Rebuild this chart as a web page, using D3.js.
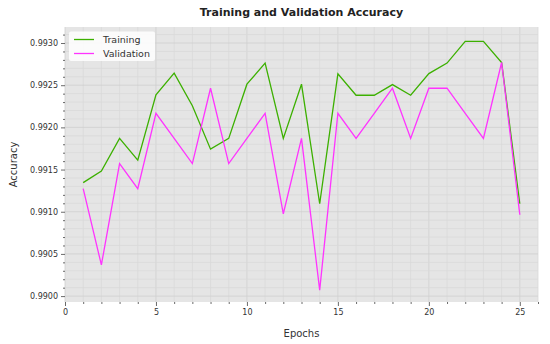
<!DOCTYPE html>
<html><head><meta charset="utf-8">
<script src="https://cdn.jsdelivr.net/npm/d3@7"></script>
<style>
body{margin:0;background:#fff;}
svg{display:block;font-family:"DejaVu Sans",sans-serif;}
</style></head><body>
<svg id="chart" width="550" height="344"></svg>
<script>
const epochs = d3.range(1, 26);
const training = [0.991345,0.991483,0.991869,0.991611,0.992385,0.992643,0.992257,0.991742,0.991869,0.992512,0.992762,0.991869,0.992512,0.991095,0.992635,0.992381,0.992381,0.992507,0.992381,0.992638,0.992762,0.993019,0.993019,0.992769,0.991095];
const validation = [0.991274,0.990369,0.991571,0.991274,0.992167,0.991869,0.991571,0.992464,0.991571,0.991869,0.992167,0.990976,0.991869,0.990071,0.992167,0.991869,0.992167,0.992464,0.991869,0.992464,0.992464,0.992167,0.991869,0.992769,0.990964];
const xTicks = [0,5,10,15,20,25];
const yTicks = [0.9900,0.9905,0.9910,0.9915,0.9920,0.9925,0.9930];
const seriesNames = ["Training","Validation"];
const colors = ["#3cb000","#ff33ff"];

const svg = d3.select("#chart");
const L = 65, R = 538, T = 27, B = 302;
const x = d3.scaleLinear().domain([0, 26]).range([L, R]);
const y = d3.scaleLinear().domain([0.98993, 0.99319]).range([B, T]);

svg.append("rect").attr("x", L).attr("y", T).attr("width", R - L).attr("height", B - T).attr("fill", "#e5e5e5");

const xMinor = d3.range(0, 27, 1);
const yMinor = d3.range(0, 33).map(i => 0.9900 + i * 0.0001).filter(v => v <= 0.99319);
const grid = svg.append("g");
grid.selectAll(".vx").data(xMinor).join("line")
  .attr("x1", d => x(d)).attr("x2", d => x(d)).attr("y1", T).attr("y2", B)
  .attr("stroke", d => d % 5 === 0 ? "#cfcfcf" : "#d9d9d9").attr("stroke-width", 0.8);
grid.selectAll(".hy").data(yMinor).join("line")
  .attr("x1", L).attr("x2", R).attr("y1", d => y(d)).attr("y2", d => y(d))
  .attr("stroke", (d, i) => i % 5 === 0 ? "#cfcfcf" : "#d9d9d9").attr("stroke-width", 0.8);

// axes
const xAxis = d3.axisBottom(x).tickValues(xTicks).tickFormat(d3.format("d")).tickSize(4).tickPadding(3);
const xAxisMinor = d3.axisBottom(x).tickValues(xMinor.filter(d => d % 5 !== 0)).tickFormat("").tickSize(2);
const yAxis = d3.axisLeft(y).tickValues(yTicks).tickFormat(d3.format(".4f")).tickSize(4).tickPadding(3);
const yAxisMinor = d3.axisLeft(y).tickValues(yMinor.filter((d, i) => i % 5 !== 0)).tickFormat("").tickSize(2);

function style(g){
  g.select(".domain").remove();
  g.selectAll("line").attr("stroke", "#444").attr("stroke-width", 0.8);
  g.selectAll("text").attr("fill", "#333").attr("font-size", "8px").attr("font-family", "DejaVu Sans");
}
svg.append("g").attr("transform", `translate(0,${B})`).call(xAxis).call(style);
svg.append("g").attr("transform", `translate(0,${B})`).call(xAxisMinor).call(style);
svg.append("g").attr("transform", `translate(${L},0)`).call(yAxis).call(style);
svg.append("g").attr("transform", `translate(${L},0)`).call(yAxisMinor).call(style);

// lines
const data = [training, validation];
const line = d3.line().x((d, i) => x(epochs[i])).y(d => y(d));
svg.append("g").selectAll("path").data(data).join("path")
  .attr("d", line).attr("fill", "none")
  .attr("stroke", (d, i) => colors[i]).attr("stroke-width", 1.3).attr("stroke-linejoin", "miter");

// title & labels
svg.append("text").attr("x", (L + R) / 2).attr("y", 16).attr("text-anchor", "middle")
  .attr("font-size", "11px").attr("font-weight", "bold").attr("fill", "#222").text("Training and Validation Accuracy");
svg.append("text").attr("x", (L + R) / 2).attr("y", 337).attr("text-anchor", "middle")
  .attr("font-size", "10px").attr("fill", "#333").text("Epochs");
svg.append("text").attr("transform", `translate(17,${(T + B) / 2}) rotate(-90)`).attr("text-anchor", "middle")
  .attr("font-size", "10px").attr("fill", "#333").text("Accuracy");

// legend
const lg = svg.append("g");
lg.append("rect").attr("x", 69).attr("y", 31.5).attr("width", 86).attr("height", 29.5).attr("rx", 2)
  .attr("fill", "#fff").attr("fill-opacity", 0.85);
seriesNames.forEach((n, i) => {
  const yy = 39.5 + i * 14;
  lg.append("line").attr("x1", 74).attr("x2", 94).attr("y1", yy).attr("y2", yy)
    .attr("stroke", colors[i]).attr("stroke-width", 1.3);
  lg.append("text").attr("x", 103).attr("y", yy + 3.5).attr("font-size", "9.5px").attr("fill", "#333").text(n);
});
</script>
</body></html>
